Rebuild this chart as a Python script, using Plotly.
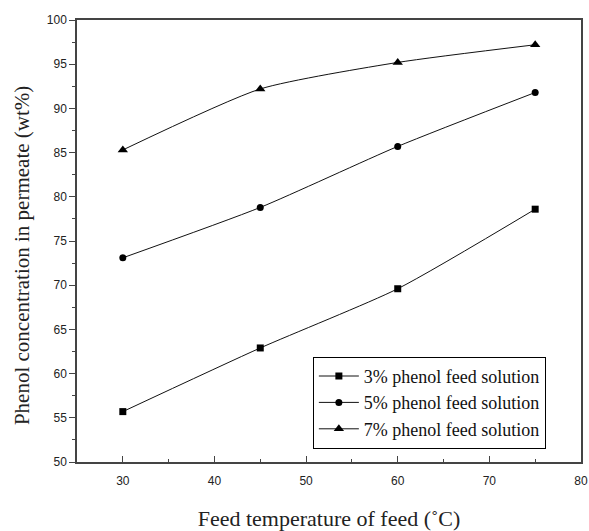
import plotly.graph_objects as go

temps = [30, 45, 60, 75]
s3 = [55.7, 62.9, 69.6, 78.6]
s5 = [73.1, 78.8, 85.7, 91.8]
s7 = [85.3, 92.2, 95.2, 97.2]
names = ["3% phenol feed solution", "5% phenol feed solution", "7% phenol feed solution"]
x_ticks = [30, 40, 50, 60, 70, 80]
y_ticks = [50, 55, 60, 65, 70, 75, 80, 85, 90, 95, 100]

fig = go.Figure()
for ys, nm, sym, sz in [(s3, names[0], "square", 7), (s5, names[1], "circle", 7), (s7, names[2], "triangle-up", 9)]:
    fig.add_trace(go.Scatter(
        x=temps, y=ys, name=nm, mode="lines+markers",
        line=dict(color="#111", width=1, shape="spline", smoothing=0.6),
        marker=dict(symbol=sym, size=sz, color="black"),
    ))

axis_common = dict(
    showgrid=False, zeroline=False, showline=True, linecolor="#444", linewidth=1.5,
    mirror=True, tickcolor="#444", automargin=False,
    tickfont=dict(family="Liberation Sans, Arial", size=12, color="#222"),
)
serif = "Liberation Serif, Times New Roman"
fig.update_layout(
    width=589, height=531,
    margin=dict(l=77, r=8, t=20, b=69),
    paper_bgcolor="white", plot_bgcolor="white",
    xaxis=dict(range=[25, 80], tickvals=x_ticks, ticks="inside", ticklen=6, ticklabelstandoff=7,
               minor=dict(dtick=5, tick0=25, ticks="inside", ticklen=3, tickcolor="#444"),
               title=dict(text="Feed temperature of feed (˚C)", standoff=24,
                          font=dict(family=serif, size=22, color="#222")),
               **axis_common),
    yaxis=dict(range=[50, 100], tickvals=y_ticks, ticks="outside", ticklen=6,
               minor=dict(dtick=2.5, tick0=50, ticks="outside", ticklen=3, tickcolor="#444"),
               **axis_common),
    annotations=[dict(text="Phenol concentration in permeate (wt%)", textangle=-90,
                      xref="paper", yref="paper", x=-0.109, y=0.466,
                      xanchor="center", yanchor="middle", showarrow=False,
                      font=dict(family=serif, size=21, color="#222"))],
    legend=dict(x=0.468, y=0.238, xanchor="left", yanchor="top",
                bordercolor="black", borderwidth=1, bgcolor="white",
                font=dict(family=serif, size=18, color="#111"),
                itemwidth=40, tracegroupgap=0),
    showlegend=True,
)
fig.write_html("out.html")
